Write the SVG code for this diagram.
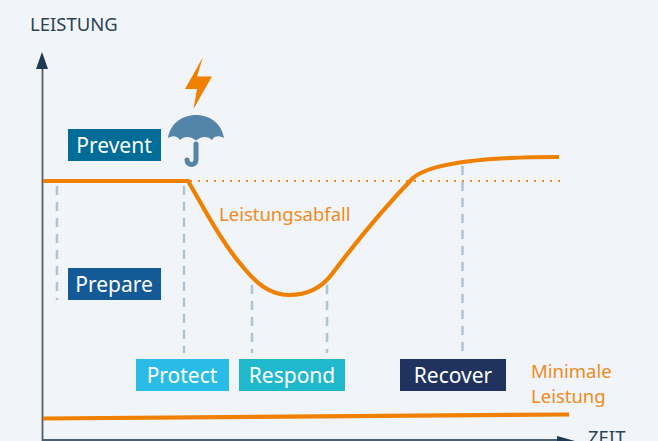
<svg xmlns="http://www.w3.org/2000/svg" width="658" height="441" viewBox="0 0 658 441">
<style>
text{font-family:"Noto Sans","Open Sans","Liberation Sans",sans-serif}
.lab{font-size:21px;fill:#fff;text-anchor:middle}
.or{font-size:18.500px;fill:#f08a1c}
.ax{font-size:18.500px;fill:#2c4257}
.dash{fill:none;stroke:#aec4d2;stroke-width:2.500;stroke-dasharray:9 7}
.curve{fill:none;stroke:#f08000;stroke-width:4.200}
</style>
<rect width="658" height="441" fill="#f1f5f9"/>
<g id="connectors">
<path class="dash" d="M57 186V300"/>
<path class="dash" d="M184 186V353"/>
<path class="dash" d="M252 285V353"/>
<path class="dash" d="M327 285V353"/>
<path class="dash" d="M462.500 166V353"/>
<path d="M190 181H562" fill="none" stroke="#f08a1c" stroke-width="2" stroke-dasharray="2 6"/>
<path d="M42.500 66V441M43 440H560" fill="none" stroke="#4a6072" stroke-width="1.800"/>
<path d="M42 52L48 69H36Z" fill="#1f3a52"/>
<path d="M557 436L575 441V441H557Z" fill="#1f3a52"/>
<path class="curve" d="M43 181H188C205 210 222 243 243 267C256 283 270 295 289 295C305 295 320 290 332 274C350 250 380 212 413 178C428 165 470 157 559 157"/>
<path class="curve" d="M43 418.500L569 414.500"/>
</g>
<g id="axis-y"><text class="ax" x="30" y="31">LEISTUNG</text></g>
<g id="axis-x"><text class="ax" x="588" y="444">ZEIT</text></g>
<g id="icon">
<path d="M203 57L197 76.500H212L193.500 109L197 89H185Z" fill="#f08000"/>
<path d="M168 138C170 124 182 115 196 115C210 115 222 124 224 138C220 136 215 135 212 140C208 136 202 136 196 140.500C190 136 184 136 180 140C176 135 172 136 168 138Z" fill="#5385a8"/>
<path d="M196 144V160C196 166 187 166 187 160" fill="none" stroke="#5385a8" stroke-width="5" stroke-linecap="round"/>
</g>
<g id="prevent"><rect x="68" y="129" width="93" height="32" fill="#006c98"/><text class="lab" x="114" y="153">Prevent</text></g>
<g id="prepare"><rect x="68" y="268" width="93" height="32" fill="#135a96"/><text class="lab" x="114" y="292">Prepare</text></g>
<g id="protect"><rect x="136" y="359" width="93" height="32" fill="#29bce6"/><text class="lab" x="182" y="383">Protect</text></g>
<g id="respond"><rect x="239" y="359" width="106" height="32" fill="#1fb8cd"/><text class="lab" x="292" y="383">Respond</text></g>
<g id="recover"><rect x="400" y="359" width="106" height="32" fill="#20335f"/><text class="lab" x="453" y="383">Recover</text></g>
<g id="leistungsabfall"><text class="or" x="219" y="221">Leistungsabfall</text></g>
<g id="minimale"><text class="or" x="531" y="378">Minimale</text><text class="or" x="531" y="403">Leistung</text></g>
</svg>
